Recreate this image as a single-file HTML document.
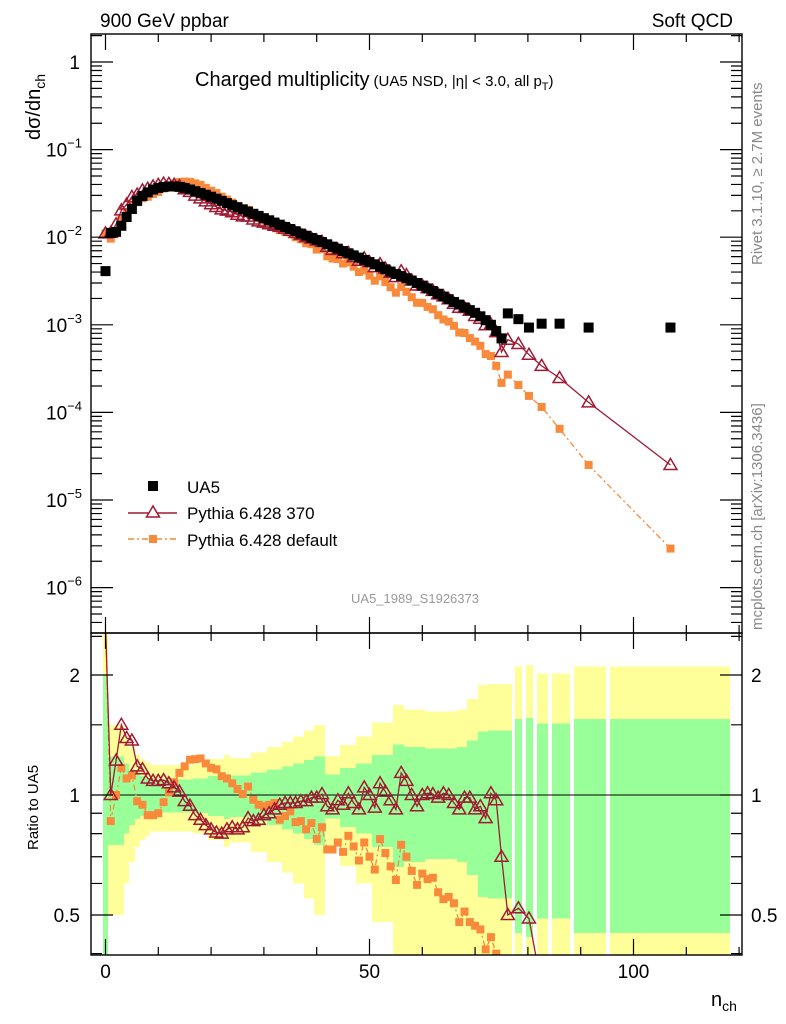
<!DOCTYPE html>
<html><head><meta charset="utf-8">
<style>
html,body{margin:0;padding:0;background:#fff;overflow:hidden;width:786px;height:1024px;}
svg{display:block;}
svg text{font-family:"Liberation Sans",Arial,sans-serif;}
</style></head>
<body>
<svg id="chart" width="786" height="1024" viewBox="0 0 786 1024" xmlns="http://www.w3.org/2000/svg">
<defs>
<clipPath id="clipTop"><rect x="91" y="34" width="651" height="599"/></clipPath>
<clipPath id="clipRat"><rect x="91" y="633" width="651" height="322"/></clipPath>
</defs>
<g id="bands" clip-path="url(#clipRat)" shape-rendering="crispEdges"></g>
<g id="ratioMarks" clip-path="url(#clipRat)"></g>
<g id="topMarks" clip-path="url(#clipTop)"></g>
<g id="axes"></g>
<text x="100" y="27" font-size="19">900 GeV ppbar</text>
<text x="733" y="27" font-size="19" text-anchor="end">Soft QCD</text>
<text x="195" y="86" font-size="20">Charged multiplicity<tspan font-size="15" dx="4">(UA5 NSD, |η| &lt; 3.0, all p</tspan><tspan font-size="11" dy="4">T</tspan><tspan font-size="15" dy="-4">)</tspan></text>
<text transform="translate(40,140) rotate(-90)" font-size="20">dσ/dn<tspan font-size="14" dy="5">ch</tspan></text>
<text transform="translate(38,850) rotate(-90)" font-size="15">Ratio to UA5</text>
<text x="711" y="1006" font-size="20">n<tspan font-size="14" dy="5">ch</tspan></text>
<text transform="translate(762,265) rotate(-90)" font-size="15" fill="#888">Rivet 3.1.10, ≥ 2.7M events</text>
<text transform="translate(762,630) rotate(-90)" font-size="15" fill="#888">mcplots.cern.ch [arXiv:1306.3436]</text>
<text x="415" y="603" font-size="13" fill="#999" text-anchor="middle">UA5_1989_S1926373</text>
<g id="legend">
  <g>
    <rect x="148" y="481" width="10" height="10" fill="#000"/>
    <text x="187" y="493" font-size="17">UA5</text>
  </g>
  <g>
    <line x1="128" y1="513" x2="177" y2="513" stroke="#a01a33" stroke-width="1.4"/>
    <polygon points="153,506 159.5,517 146.5,517" fill="#fff" stroke="#a01a33" stroke-width="1.5"/>
    <text x="187" y="519" font-size="17">Pythia 6.428 370</text>
  </g>
  <g>
    <line x1="128" y1="539" x2="177" y2="539" stroke="#f98a3c" stroke-width="1.4" stroke-dasharray="6,3,2,3"/>
    <rect x="149" y="535" width="8" height="8" fill="#f98a3c"/>
    <text x="187" y="546" font-size="17">Pythia 6.428 default</text>
  </g>
</g>
</svg>
<script>
// ---- data ----
const binCenters = [0,1,2,3,4,5,6,7,8,9,10,11,12,13,14,15,16,17,18,19,20,21,22,23,24,25,26,27,28,29,30,31,32,33,34,35,36,37,38,39,40,41,42,43,44,45,46,47,48,49,50,51,52,53,54,55,56,57,58,59,60,61,62,63,64,65,66,67,68,69,70,71,72,73,74,75,76.2,78.2,80.2,82.6,86.0,91.5,107.0];
const binLo = [-0.5,0.5,1.5,2.5,3.5,4.5,5.5,6.5,7.5,8.5,9.5,10.5,11.5,12.5,13.5,14.5,15.5,16.5,17.5,18.5,19.5,20.5,21.5,22.5,23.5,24.5,25.5,26.5,27.5,28.5,29.5,30.5,31.5,32.5,33.5,34.5,35.5,36.5,37.5,38.5,39.5,40.5,41.5,42.5,43.5,44.5,45.5,46.5,47.5,48.5,49.5,50.5,51.5,52.5,53.5,54.5,55.5,56.5,57.5,58.5,59.5,60.5,61.5,62.5,63.5,64.5,65.5,66.5,67.5,68.5,69.5,70.5,71.5,72.5,73.5,74.5,75.5,77.6,79.7,81.8,84.6,88.8,95.6];
const binHi = [0.5,1.5,2.5,3.5,4.5,5.5,6.5,7.5,8.5,9.5,10.5,11.5,12.5,13.5,14.5,15.5,16.5,17.5,18.5,19.5,20.5,21.5,22.5,23.5,24.5,25.5,26.5,27.5,28.5,29.5,30.5,31.5,32.5,33.5,34.5,35.5,36.5,37.5,38.5,39.5,40.5,41.5,42.5,43.5,44.5,45.5,46.5,47.5,48.5,49.5,50.5,51.5,52.5,53.5,54.5,55.5,56.5,57.5,58.5,59.5,60.5,61.5,62.5,63.5,64.5,65.5,66.5,67.5,68.5,69.5,70.5,71.5,72.5,73.5,74.5,75.5,76.9,78.9,81.0,83.9,87.9,94.7,118.2];
const ua5 = [4.1e-3,1.12e-2,1.15e-2,1.35e-2,1.7e-2,2.1e-2,2.6e-2,2.95e-2,3.25e-2,3.5e-2,3.65e-2,3.75e-2,3.8e-2,3.8e-2,3.75e-2,3.65e-2,3.5e-2,3.35e-2,3.2e-2,3.05e-2,2.9e-2,2.75e-2,2.6e-2,2.45e-2,2.32e-2,2.2e-2,2.08e-2,1.96e-2,1.85e-2,1.75e-2,1.65e-2,1.56e-2,1.47e-2,1.39e-2,1.31e-2,1.24e-2,1.17e-2,1.10e-2,1.04e-2,9.8e-3,9.3e-3,8.8e-3,8.3e-3,7.8e-3,7.4e-3,6.95e-3,6.55e-3,6.2e-3,5.85e-3,5.5e-3,5.2e-3,4.9e-3,4.6e-3,4.3e-3,4.05e-3,3.8e-3,3.6e-3,3.4e-3,3.2e-3,3.0e-3,2.8e-3,2.6e-3,2.43e-3,2.26e-3,2.1e-3,1.96e-3,1.82e-3,1.7e-3,1.58e-3,1.47e-3,1.37e-3,1.25e-3,1.13e-3,1.0e-3,8.5e-4,7.0e-4,1.35e-3,1.16e-3,9.3e-4,1.03e-3,1.03e-3,9.3e-4,9.3e-4];
const ua5RelErr = [1.0,0.25,0.25,0.25,0.2,0.16,0.13,0.115,0.105,0.095,0.095,0.095,0.095,0.095,0.095,0.095,0.095,0.1,0.1,0.1,0.115,0.115,0.115,0.13,0.12,0.12,0.12,0.12,0.14,0.14,0.14,0.16,0.16,0.16,0.18,0.18,0.2,0.2,0.225,0.225,0.25,0.25,0.127,0.127,0.127,0.168,0.168,0.168,0.2,0.2,0.2,0.26,0.26,0.26,0.26,0.34,0.34,0.32,0.32,0.32,0.32,0.31,0.31,0.31,0.31,0.31,0.31,0.32,0.32,0.37,0.37,0.445,0.445,0.45,0.45,0.45,0.45,0.55,0.56,0.51,0.51,0.55,0.55];
const ratio370 = [2.7,1.0,1.22,1.5,1.39,1.37,1.18,1.16,1.10,1.085,1.085,1.09,1.07,1.045,1.02,0.965,0.94,0.89,0.867,0.84,0.82,0.805,0.80,0.82,0.83,0.82,0.83,0.875,0.86,0.867,0.89,0.90,0.92,0.945,0.955,0.955,0.955,0.965,0.965,0.985,0.985,1.005,0.937,0.92,0.97,0.945,1.01,0.955,0.92,1.045,1.0,0.93,1.07,1.02,0.97,0.92,1.136,1.085,1.0,0.937,1.0,1.01,1.005,0.985,1.01,1.0,0.955,0.92,0.985,0.985,0.92,0.937,0.875,1.01,0.97,0.70,0.50,0.52,0.49,0.33,0.24,0.14,0.027];
const ratioDefault = [2.7,0.86,1.0,1.17,1.10,1.12,0.965,0.945,0.89,0.89,0.90,0.96,1.015,1.077,1.136,1.18,1.226,1.23,1.235,1.20,1.17,1.16,1.115,1.10,1.07,1.035,1.005,1.05,0.973,0.945,0.937,0.945,0.955,0.867,0.885,0.91,0.855,0.86,0.82,0.85,0.776,0.83,0.73,0.73,0.76,0.72,0.79,0.743,0.685,0.76,0.70,0.65,0.775,0.715,0.662,0.612,0.75,0.70,0.645,0.595,0.635,0.615,0.62,0.57,0.548,0.555,0.535,0.48,0.51,0.48,0.47,0.46,0.41,0.44,0.40,0.31,0.20,0.177,0.166,0.112,0.063,0.027,0.003];
const xTickLabels = ["0","50","100"];
const xTickValues = [0,50,100];
const topTickLabels = ["1","10","10","10","10","10","10"];
const topTickExps = [0,-1,-2,-3,-4,-5,-6];
const ratioTickValues = [0.5,1,2];
const ratioTickLabels = ["0.5","1","2"];

// ---- axes ----
const L=91,R=742,T=34,M=633,B=955;
const X0=105.5, XS=5.28;
function xp(n){return X0+XS*n;}
function yTop(v){return 62-87.6*Math.log10(v);}
function yRat(r){return 795-120*Math.log2(r);}
const NS="http://www.w3.org/2000/svg";
function mk(tag,attrs,parent){const e=document.createElementNS(NS,tag);for(const k in attrs)e.setAttribute(k,attrs[k]);parent.appendChild(e);return e;}
const RED="#a01a33", ORA="#f98a3c";
const nBins=Math.min(binCenters.length,ua5.length,ratio370.length,ratioDefault.length);

// bands
const bandG=document.getElementById('bands');
for(let i=0;i<Math.min(binCenters.length,ua5RelErr.length,binLo.length,binHi.length);i++){
  const e=ua5RelErr[i];
  const x1=Math.round(xp(binLo[i])), x2=Math.round(xp(binHi[i]));
  const yu2=yRat(1+2*e), yl2=(1-2*e)>0.01?yRat(1-2*e):B+10;
  const yu1=yRat(1+e), yl1=(1-e)>0.01?yRat(1-e):B+10;
  const r1=mk('rect',{x:x1,y:yu2,width:x2-x1,height:yl2-yu2,fill:'#ffff99'},bandG);
  
  
  const r2=mk('rect',{x:x1,y:yu1,width:x2-x1,height:yl1-yu1,fill:'#99ff99'},bandG);
  
  
}
const oneLine=mk('line',{x1:L,y1:yRat(1),x2:R,y2:yRat(1),stroke:'#000','stroke-width':1.3},bandG);



function tri(g,x,y,name){
  const p=mk('polygon',{points:`${x},${y-6.5} ${x+6.5},${y+4.5} ${x-6.5},${y+4.5}`,fill:'none',stroke:RED,'stroke-width':1.5},g);
  
  
}
function sq(g,x,y,s,c,name){
  const r=mk('rect',{x:x-s/2,y:y-s/2,width:s,height:s,fill:c},g);
  
  
}
function series(g,vals,yf,color,dash,name){
  const pts=[];
  for(let i=0;i<nBins;i++)pts.push(xp(binCenters[i])+','+yf(vals[i]));
  const a={points:pts.join(' '),fill:'none',stroke:color,'stroke-width':1.3};
  if(dash)a['stroke-dasharray']=dash;
  const pl=mk('polyline',a,g);
  
  
}
// top panel
const topG=document.getElementById('topMarks');
const mc370=ua5.map((v,i)=>v*ratio370[i]);
const mcDef=ua5.map((v,i)=>v*ratioDefault[i]);
series(topG,mcDef,yTop,ORA,'6,3,2,3','pythia-default-line');
for(let i=0;i<nBins;i++)sq(topG,xp(binCenters[i]),yTop(mcDef[i]),8,ORA,'pythia-default-point');
series(topG,mc370,yTop,RED,null,'pythia-370-line');
for(let i=0;i<nBins;i++)tri(topG,xp(binCenters[i]),yTop(mc370[i]),'pythia-370-point');
for(let i=0;i<nBins;i++)sq(topG,xp(binCenters[i]),yTop(ua5[i]),10,'#000','ua5-point');
// ratio panel
const ratG=document.getElementById('ratioMarks');
series(ratG,ratioDefault,yRat,ORA,'6,3,2,3','ratio-default-line');
for(let i=0;i<nBins;i++)sq(ratG,xp(binCenters[i]),yRat(ratioDefault[i]),8,ORA,'ratio-default-point');
series(ratG,ratio370,yRat,RED,null,'ratio-370-line');
for(let i=0;i<nBins;i++)tri(ratG,xp(binCenters[i]),yRat(ratio370[i]),'ratio-370-point');

// axes / frames / ticks
const axG=document.getElementById('axes');
const f1=mk('rect',{x:L,y:T,width:R-L,height:M-T,fill:'none',stroke:'#000','stroke-width':1.4},axG);


const f2=mk('rect',{x:L,y:M,width:R-L,height:B-M,fill:'none',stroke:'#000','stroke-width':1.4},axG);


let tk='';
for(let n=0;n<=120;n+=10){
  const x=xp(n), len=(n%50===0)?16:8;
  tk+=`M${x},${T}v${len}M${x},${M}v${-len}M${x},${M}v${len}M${x},${B}v${-len}`;
}
for(let d=0;d>=-7;d--){
  for(let k=1;k<10;k++){
    const v=k*Math.pow(10,d), y=yTop(v);
    if(y<T||y>M)continue;
    const len=k===1?22:11;
    tk+=`M${L},${y}h${len}M${R},${y}h${-len}`;
  }
}
const rt=[0.4,0.5,0.6,0.7,0.8,0.9,1,1.5,2,2.5];
rt.forEach(r=>{const y=yRat(r);if(y<M||y>B)return;const len=(r===0.5||r===1||r===2)?22:11;tk+=`M${L},${y}h${len}M${R},${y}h${-len}`;});
const tp=mk('path',{d:tk,fill:'none',stroke:'#000','stroke-width':1.2},axG);


xTickValues.forEach((v,i)=>{
  const t=mk('text',{x:xp(v),y:978,'font-size':19,'text-anchor':'middle'},axG);
  t.textContent=xTickLabels[i];
  
  
});
topTickExps.forEach((d,i)=>{
  const y=yTop(Math.pow(10,d));
  const t=mk('text',{x:80,y:y+7,'font-size':19,'text-anchor':'end'},axG);
  t.textContent=topTickLabels[i];
  if(d!==0){
    const s=mk('tspan',{dy:-9,'font-size':13},t);
    s.textContent='−'+(-d);
    t.setAttribute('x',82);
  }
  
  
});
ratioTickValues.forEach((v,i)=>{
  const y=yRat(v)+7;
  const t1=mk('text',{x:80,y:y,'font-size':19,'text-anchor':'end'},axG);
  t1.textContent=ratioTickLabels[i];
  
  
  const t2=mk('text',{x:751,y:y,'font-size':19},axG);
  t2.textContent=ratioTickLabels[i];
  
  
});
</script>
</body></html>
